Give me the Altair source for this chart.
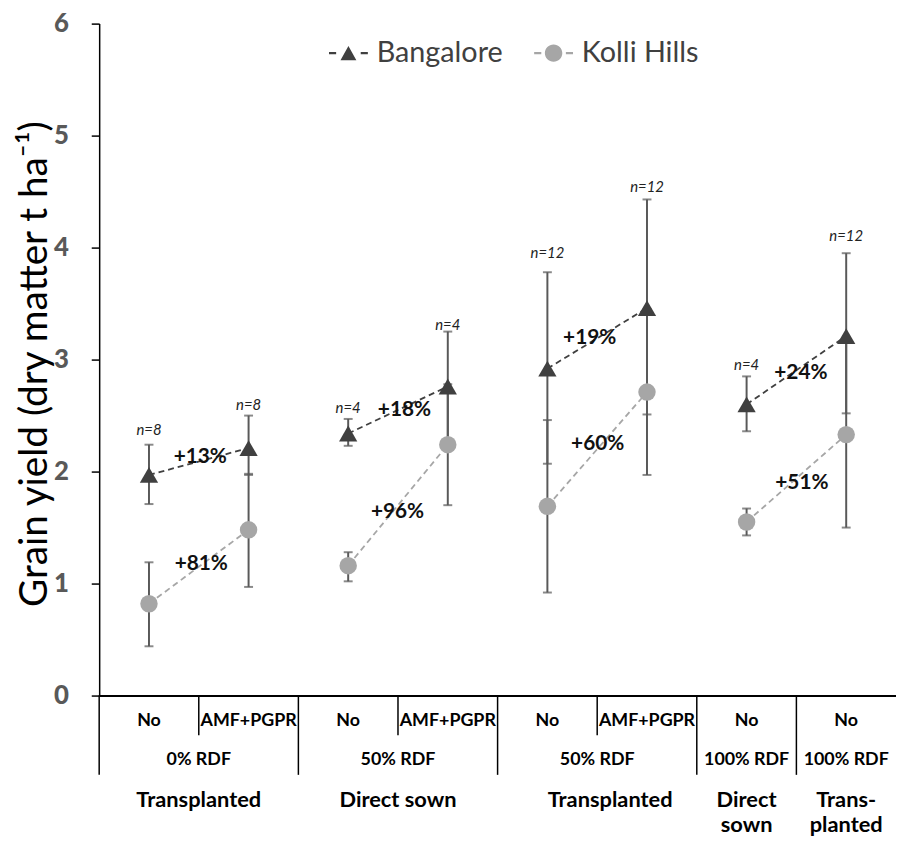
import altair as alt
import pandas as pd

# ---------------- data ----------------
categories = [1, 2, 3, 4, 5, 6, 7, 8]
row1_labels = ["No", "AMF+PGPR", "No", "AMF+PGPR", "No", "AMF+PGPR", "No", "No"]
row2_labels = ["0% RDF", "50% RDF", "50% RDF", "100% RDF", "100% RDF"]
row2_pos = [1.5, 3.5, 5.5, 7, 8]
row3_labels = ["Transplanted", "Direct sown", "Transplanted", "Direct\nsown", "Trans-\nplanted"]
row3_pos = [1.5, 3.5, 5.63, 7, 8]
short_sep = [1.5, 3.5, 5.5]
long_sep = [0.5, 2.5, 4.5, 6.5, 7.5]

series = ["Bangalore", "Kolli Hills"]
pairs = [1, 1, 2, 2, 3, 3, 4, 4]
bang_mean = [1.97, 2.21, 2.34, 2.76, 2.92, 3.46, 2.60, 3.21]
bang_lo = [1.71, 1.97, 2.23, 2.27, 2.07, 2.51, 2.36, 2.52]
bang_hi = [2.24, 2.50, 2.47, 3.25, 3.78, 4.43, 2.85, 3.95]
kolli_mean = [0.82, 1.48, 1.16, 2.24, 1.69, 2.71, 1.55, 2.33]
kolli_lo = [0.44, 0.97, 1.02, 1.70, 0.92, 1.97, 1.43, 1.50]
kolli_hi = [1.19, 1.98, 1.28, 2.78, 2.46, 3.45, 1.67, 3.16]

n_labels = ["n=8", "n=8", "n=4", "n=4", "n=12", "n=12", "n=4", "n=12"]
n_label_y = [2.375, 2.59, 2.565, 3.31, 3.95, 4.54, 2.955, 4.10]

pct_labels = ["+13%", "+81%", "+18%", "+96%", "+19%", "+60%", "+24%", "+51%"]
pct_x = [1.515, 1.525, 3.565, 3.495, 5.425, 5.505, 7.545, 7.555]
pct_y = [2.13, 1.17, 2.55, 1.64, 3.19, 2.25, 2.88, 1.90]

y_ticks = [0, 1, 2, 3, 4, 5, 6]

# ---------------- styling ----------------
W, H = 804, 678
FONT = "Lato"
C_BANG = "#404040"
C_KOLLI = "#a6a6a6"
C_ERR = "#595959"

rows = []
for i, c in enumerate(categories):
    rows.append(dict(x=c, series="Bangalore", mean=bang_mean[i], lo=bang_lo[i], hi=bang_hi[i], pair=pairs[i]))
for i, c in enumerate(categories):
    rows.append(dict(x=c, series="Kolli Hills", mean=kolli_mean[i], lo=kolli_lo[i], hi=kolli_hi[i], pair=pairs[i]))
pts = pd.DataFrame(rows)

n_df = pd.DataFrame(dict(x=categories, y=n_label_y, label=n_labels))
pct_df = pd.DataFrame(dict(x=pct_x, y=pct_y, label=pct_labels))
r1_df = pd.DataFrame(dict(x=categories, label=row1_labels))
r2_df = pd.DataFrame(dict(x=row2_pos, label=row2_labels))
r3_df = pd.DataFrame(dict(x=row3_pos, label=row3_labels))
ss_df = pd.DataFrame(dict(x=short_sep))
ls_df = pd.DataFrame(dict(x=long_sep))

xscale = alt.Scale(domain=[0.5, 8.5], nice=False, zero=False)
yscale = alt.Scale(domain=[0, 6], nice=False, zero=True)
xaxis = alt.Axis(domain=True, domainColor="black", domainWidth=2, ticks=False,
                 labels=False, grid=False, title=None)
yaxis = alt.Axis(values=y_ticks, grid=False, domainColor="black", domainWidth=1.5,
                 tickColor="black", tickSize=8, tickWidth=1.5,
                 labelFont=FONT, labelFontWeight=900, labelFontSize=26,
                 labelColor="#595959", labelPadding=23,
                 title="Grain yield (dry matter t ha\u207b\u00b9)",
                 titleX=-53, titleY=H / 2 + 4, titleAngle=-90, titleAlign="center",
                 titleBaseline="alphabetic", titleFont=FONT, titleFontSize=39,
                 titleFontWeight="normal", titleColor="black")


def X(field):
    return alt.X(field, type="quantitative", scale=xscale, axis=xaxis)


def Y(field):
    return alt.Y(field, type="quantitative", scale=yscale, axis=yaxis)


# separators under the x axis
sep_short = alt.Chart(ss_df).mark_rule(color="black", strokeWidth=1.5).encode(
    x=X("x"), y=alt.value(H), y2=alt.value(H + 40))
sep_long = alt.Chart(ls_df).mark_rule(color="black", strokeWidth=1.5).encode(
    x=X("x"), y=alt.value(H), y2=alt.value(H + 80))

# error bars
err = alt.Chart(pts).mark_errorbar(ticks=True, size=9, thickness=2, color=C_ERR).encode(
    x=X("x"), y=Y("lo"), y2=alt.Y2("hi"))

# dashed connecting lines
line_b = alt.Chart(pts).transform_filter(alt.datum.series == "Bangalore").mark_line(
    color=C_BANG, strokeDash=[6, 4], strokeWidth=1.8).encode(
    x=X("x"), y=Y("mean"), detail="pair:N")
line_k = alt.Chart(pts).transform_filter(alt.datum.series == "Kolli Hills").mark_line(
    color=C_KOLLI, strokeDash=[6, 4], strokeWidth=1.8).encode(
    x=X("x"), y=Y("mean"), detail="pair:N")

# markers
pt_b = alt.Chart(pts).transform_filter(alt.datum.series == "Bangalore").mark_point(
    shape="triangle-up", filled=True, color=C_BANG, size=340, opacity=1).encode(
    x=X("x"), y=Y("mean"))
pt_k = alt.Chart(pts).transform_filter(alt.datum.series == "Kolli Hills").mark_point(
    shape="circle", filled=True, color=C_KOLLI, size=310, opacity=1).encode(
    x=X("x"), y=Y("mean"))

# legend (custom symbols: dash - marker - dash)
dash = "M-2.45,-0.13H-1.55V0.13H-2.45Z M1.55,-0.13H2.45V0.13H1.55Z "
sym_b = dash + "M-1,0.9L0,-0.9L1,0.9Z"
sym_k = dash + "M-1.1,0A1.1,1.1,0,1,1,1.1,0A1.1,1.1,0,1,1,-1.1,0Z"
leg = alt.Legend(orient="none", legendX=237, legendY=15, direction="horizontal",
                 title=None, labelFont=FONT, labelFontSize=29, labelColor="#404040",
                 symbolSize=256, symbolStrokeWidth=0, symbolOpacity=1,
                 labelOffset=14, columnPadding=30, padding=0)
legend_layer = alt.Chart(pts).mark_point(filled=True, opacity=0).encode(
    x=X("x"), y=Y("mean"),
    shape=alt.Shape("series:N", scale=alt.Scale(domain=series, range=[sym_b, sym_k]), legend=leg),
    color=alt.Color("series:N", scale=alt.Scale(domain=series, range=[C_BANG, C_KOLLI]), legend=leg))

# annotations
n_text = alt.Chart(n_df).mark_text(font=FONT, fontStyle="italic", fontSize=15,
                                   color="#222222", baseline="middle").encode(
    x=X("x"), y=Y("y"), text="label:N")
pct_text = alt.Chart(pct_df).mark_text(font=FONT, fontWeight="bold", fontSize=21,
                                       color="#111111", baseline="middle").encode(
    x=X("x"), y=Y("y"), text="label:N")

# category label rows
r1 = alt.Chart(r1_df).mark_text(font=FONT, fontWeight="bold", fontSize=18, color="black",
                                baseline="middle").encode(
    x=X("x"), y=alt.value(H + 26), text="label:N")
r2 = alt.Chart(r2_df).mark_text(font=FONT, fontWeight="bold", fontSize=18, color="black",
                                baseline="middle").encode(
    x=X("x"), y=alt.value(H + 65), text="label:N")
r3 = alt.Chart(r3_df).mark_text(font=FONT, fontWeight="bold", fontSize=22, color="black",
                                baseline="top", lineBreak="\n", lineHeight=26).encode(
    x=X("x"), y=alt.value(H + 95), text="label:N")

chart = alt.layer(
    sep_short, sep_long, err, line_b, line_k, pt_b, pt_k, legend_layer,
    n_text, pct_text, r1, r2, r3
).properties(
    width=W, height=H,
    autosize=alt.AutoSizeParams(type="none"),
    padding={"left": 92, "top": 12, "right": 0, "bottom": 144},
    background="white",
).configure_view(stroke=None)

chart.save("out.html", embed_options={"renderer": "svg", "actions": False})
